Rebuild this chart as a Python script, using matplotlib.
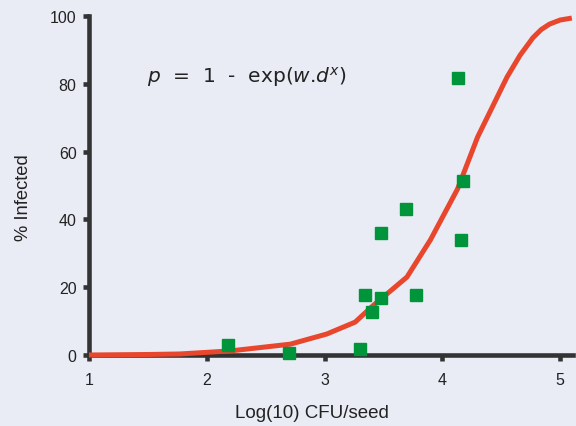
import matplotlib
matplotlib.use("Agg")
import matplotlib.pyplot as plt

# Observed data (log10 CFU/seed, % infected)
obs_x = [2.18, 2.70, 3.30, 3.34, 3.40, 3.48, 3.48, 3.69, 3.78, 4.13, 4.18, 4.16]
obs_y = [2.9, 0.6, 1.8, 17.7, 12.7, 16.8, 36.0, 43.0, 17.7, 81.7, 51.3, 34.0]

# Fitted curve
fit_x = [1.0, 1.5, 1.77, 2.2, 2.71, 3.02, 3.26, 3.41, 3.70, 3.90, 4.13, 4.30, 4.55, 4.66, 4.77, 4.84, 4.91, 5.0, 5.1]
fit_y = [0.0, 0.15, 0.3, 1.2, 3.2, 6.2, 9.7, 14.5, 23.0, 34.0, 49.0, 64.3, 82.0, 88.4, 93.6, 96.0, 97.6, 98.8, 99.4]

x_ticks = [1, 2, 3, 4, 5]
y_ticks = [0, 20, 40, 60, 80, 100]

bg = "#E9ECF5"
dark = "#333333"
txt = "#222222"

plt.rcParams['font.family'] = ['Liberation Sans', 'DejaVu Sans']
plt.rcParams['mathtext.fontset'] = 'dejavusans'

fig = plt.figure(figsize=(5.76, 4.27), dpi=100, facecolor=bg)
ax = fig.add_axes([89/576, 71/427, 484/576, 339/427])
ax.set_facecolor(bg)

ax.plot(fit_x, fit_y, color="#E8462D", lw=3.6, zorder=4, clip_on=False,
        solid_capstyle='butt', solid_joinstyle='round')
ax.plot(obs_x, obs_y, ls='none', marker='s', ms=8.5, color="#00953A",
        mec="#00953A", zorder=5, clip_on=False)

ax.set_xlim(1, 5.11)
ax.set_ylim(0, 100)
ax.set_xticks(x_ticks)
ax.set_yticks(y_ticks)

for s in ['top', 'right']:
    ax.spines[s].set_visible(False)
for s in ['left', 'bottom']:
    ax.spines[s].set_linewidth(3.3)
    ax.spines[s].set_color(dark)
    ax.spines[s].set_zorder(3)

ax.tick_params(axis='both', direction='out', length=4, width=3.3, color=dark,
               labelsize=11.5, labelcolor=txt)
ax.tick_params(axis='x', pad=8)
ax.tick_params(axis='y', pad=5)

fig.text(312/576, 1 - 414/427, "Log(10) CFU/seed", fontsize=13.5, color=txt,
         ha='center', va='center')
fig.text(24/576, 1 - 198/427, "% Infected", fontsize=13.2, color=txt,
         ha='center', va='center', rotation=90)

ax.text(0.12, 0.823, r"$p$  =  1  -  exp($w$.$d^x$)", transform=ax.transAxes,
        fontsize=14.5, color=txt, va='center', ha='left', family=['DejaVu Sans'])

fig.savefig("out.png", dpi=100, facecolor=bg)
